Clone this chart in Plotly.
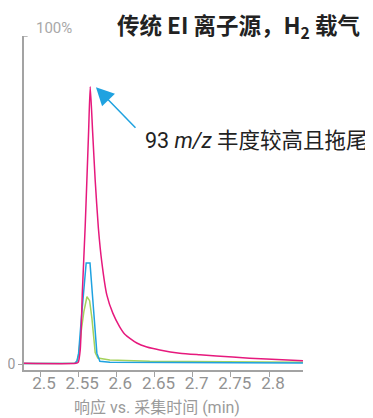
import plotly.graph_objects as go

# ---- data ----
t_pink = [2.479, 2.547, 2.550, 2.5527, 2.5555, 2.5592, 2.5614, 2.5637, 2.5658, 2.5689,
          2.5723, 2.5765, 2.5810, 2.5876, 2.5954, 2.6040, 2.6111, 2.6268, 2.640, 2.6569,
          2.683, 2.7092, 2.7523, 2.7967, 2.8445]
v_pink = [0.2, 0.2, 0.5, 4.3, 22, 42, 56, 71, 84.5, 71,
          56, 41.4, 31, 21, 15.5, 11.5, 9.1, 6.4, 5.2, 4.3,
          3.3, 2.8, 2.1, 1.5, 1.0]

t_blue = [2.479, 2.5458, 2.5484, 2.5506, 2.554, 2.5575, 2.5605, 2.5655, 2.568, 2.5706,
          2.5745, 2.5784, 2.5915, 2.8445]
v_blue = [0.15, 0.2, 0.9, 3.3, 13.4, 23.4, 30.8, 30.8, 23.4, 13.4,
          3.3, 0.8, 0.5, 0.3]

t_green = [2.479, 2.5458, 2.5484, 2.5506, 2.554, 2.5575, 2.5615, 2.5650, 2.568, 2.5723,
           2.5758, 2.5915, 2.6438, 2.8445]
v_green = [0.15, 0.2, 0.8, 2.7, 10, 16, 20.5, 19.3, 14, 3.5,
           1.8, 1.2, 0.8, 0.5]

x_tickvals = [2.5, 2.55, 2.6, 2.65, 2.7, 2.75, 2.8]
x_ticktext = ["2.5", "2.55", "2.6", "2.65", "2.7", "2.75", "2.8"]

PINK = "#e6197d"
BLUE = "#1fa2e0"
GREEN = "#a5d25c"
GRAY = "#a3a3a3"

# page has an 8px body margin: figure is sized to fit inside the window
W, H = 365, 410

fig = go.Figure()
fig.add_trace(go.Scatter(x=t_green, y=v_green, mode="lines",
                         line=dict(color=GREEN, width=1.5), hoverinfo="skip"))
fig.add_trace(go.Scatter(x=t_blue, y=v_blue, mode="lines",
                         line=dict(color=BLUE, width=1.5), hoverinfo="skip"))
fig.add_trace(go.Scatter(x=t_pink, y=v_pink, mode="lines",
                         line=dict(color=PINK, width=1.5, shape="spline", smoothing=0.6),
                         hoverinfo="skip"))

fig.update_layout(
    width=W, height=H, autosize=False,
    margin=dict(l=16, r=70, t=28, b=48, pad=0, autoexpand=False),
    paper_bgcolor="white", plot_bgcolor="white",
    showlegend=False,
    title=dict(text="传统 EI 离子源，H<sub>2</sub> 载气",
               font=dict(family="Noto Sans CJK SC", size=22.5, color="#222222", weight="bold"),
               x=109 / W, xanchor="left", xref="container",
               y=1 - 18 / H, yanchor="middle", yref="container"),
)

fig.update_xaxes(
    range=[2.47904, 2.84454],
    tickvals=x_tickvals, ticktext=x_ticktext,
    showline=True, linecolor=GRAY, linewidth=1.5,
    ticks="outside", ticklen=5, tickwidth=1, tickcolor=GRAY,
    tickfont=dict(family="Roboto", size=17, color="#929292"),
    ticklabelshift=4, ticklabelstandoff=-8,
    showgrid=False, zeroline=False, automargin=False,
)
fig.update_yaxes(
    range=[-1.83, 100],
    tickvals=[0], ticktext=["0"],
    showline=True, linecolor=GRAY, linewidth=1.5,
    ticks="outside", ticklen=4, tickwidth=1, tickcolor=GRAY,
    tickfont=dict(family="Roboto", size=14, color="#999999"),
    ticklabelstandoff=0,
    showgrid=False, zeroline=False, automargin=False,
)

# small top tick at 100%
fig.add_shape(type="line", xref="x domain", yref="y", x0=0, x1=0.013, y0=100, y1=100,
              line=dict(color=GRAY, width=1.5))

fig.add_annotation(text="100%", xref="x domain", yref="y", x=0, y=100,
                   xanchor="left", yanchor="middle", xshift=10, yshift=8,
                   showarrow=False, font=dict(family="Roboto", size=15, color="#a8a8a8"))

# arrow pointing to pink peak
fig.add_annotation(text="", x=2.5733, y=84.4, xref="x", yref="y",
                   showarrow=True, arrowhead=2, arrowsize=2.4, arrowwidth=1.5,
                   arrowcolor=BLUE, ax=41, ay=42, standoff=0)

fig.add_annotation(text="93 <i>m/z</i> 丰度较高且拖尾", xref="paper", yref="paper",
                   x=(143 - 24) / 279, y=(370 - 140) / 334, xanchor="left", yanchor="middle",
                   showarrow=False,
                   font=dict(family="Roboto, Noto Sans CJK SC", size=21.5, color="#222222"))

fig.add_annotation(text="响应 vs. 采集时间 (min)", xref="paper", yref="paper",
                   x=(157 - 24) / 279, y=(370 - 408) / 334, xanchor="center", yanchor="middle",
                   showarrow=False,
                   font=dict(family="Roboto, Noto Sans CJK SC", size=16, color="#9a9a9a"))

fig.write_html("out.html")
